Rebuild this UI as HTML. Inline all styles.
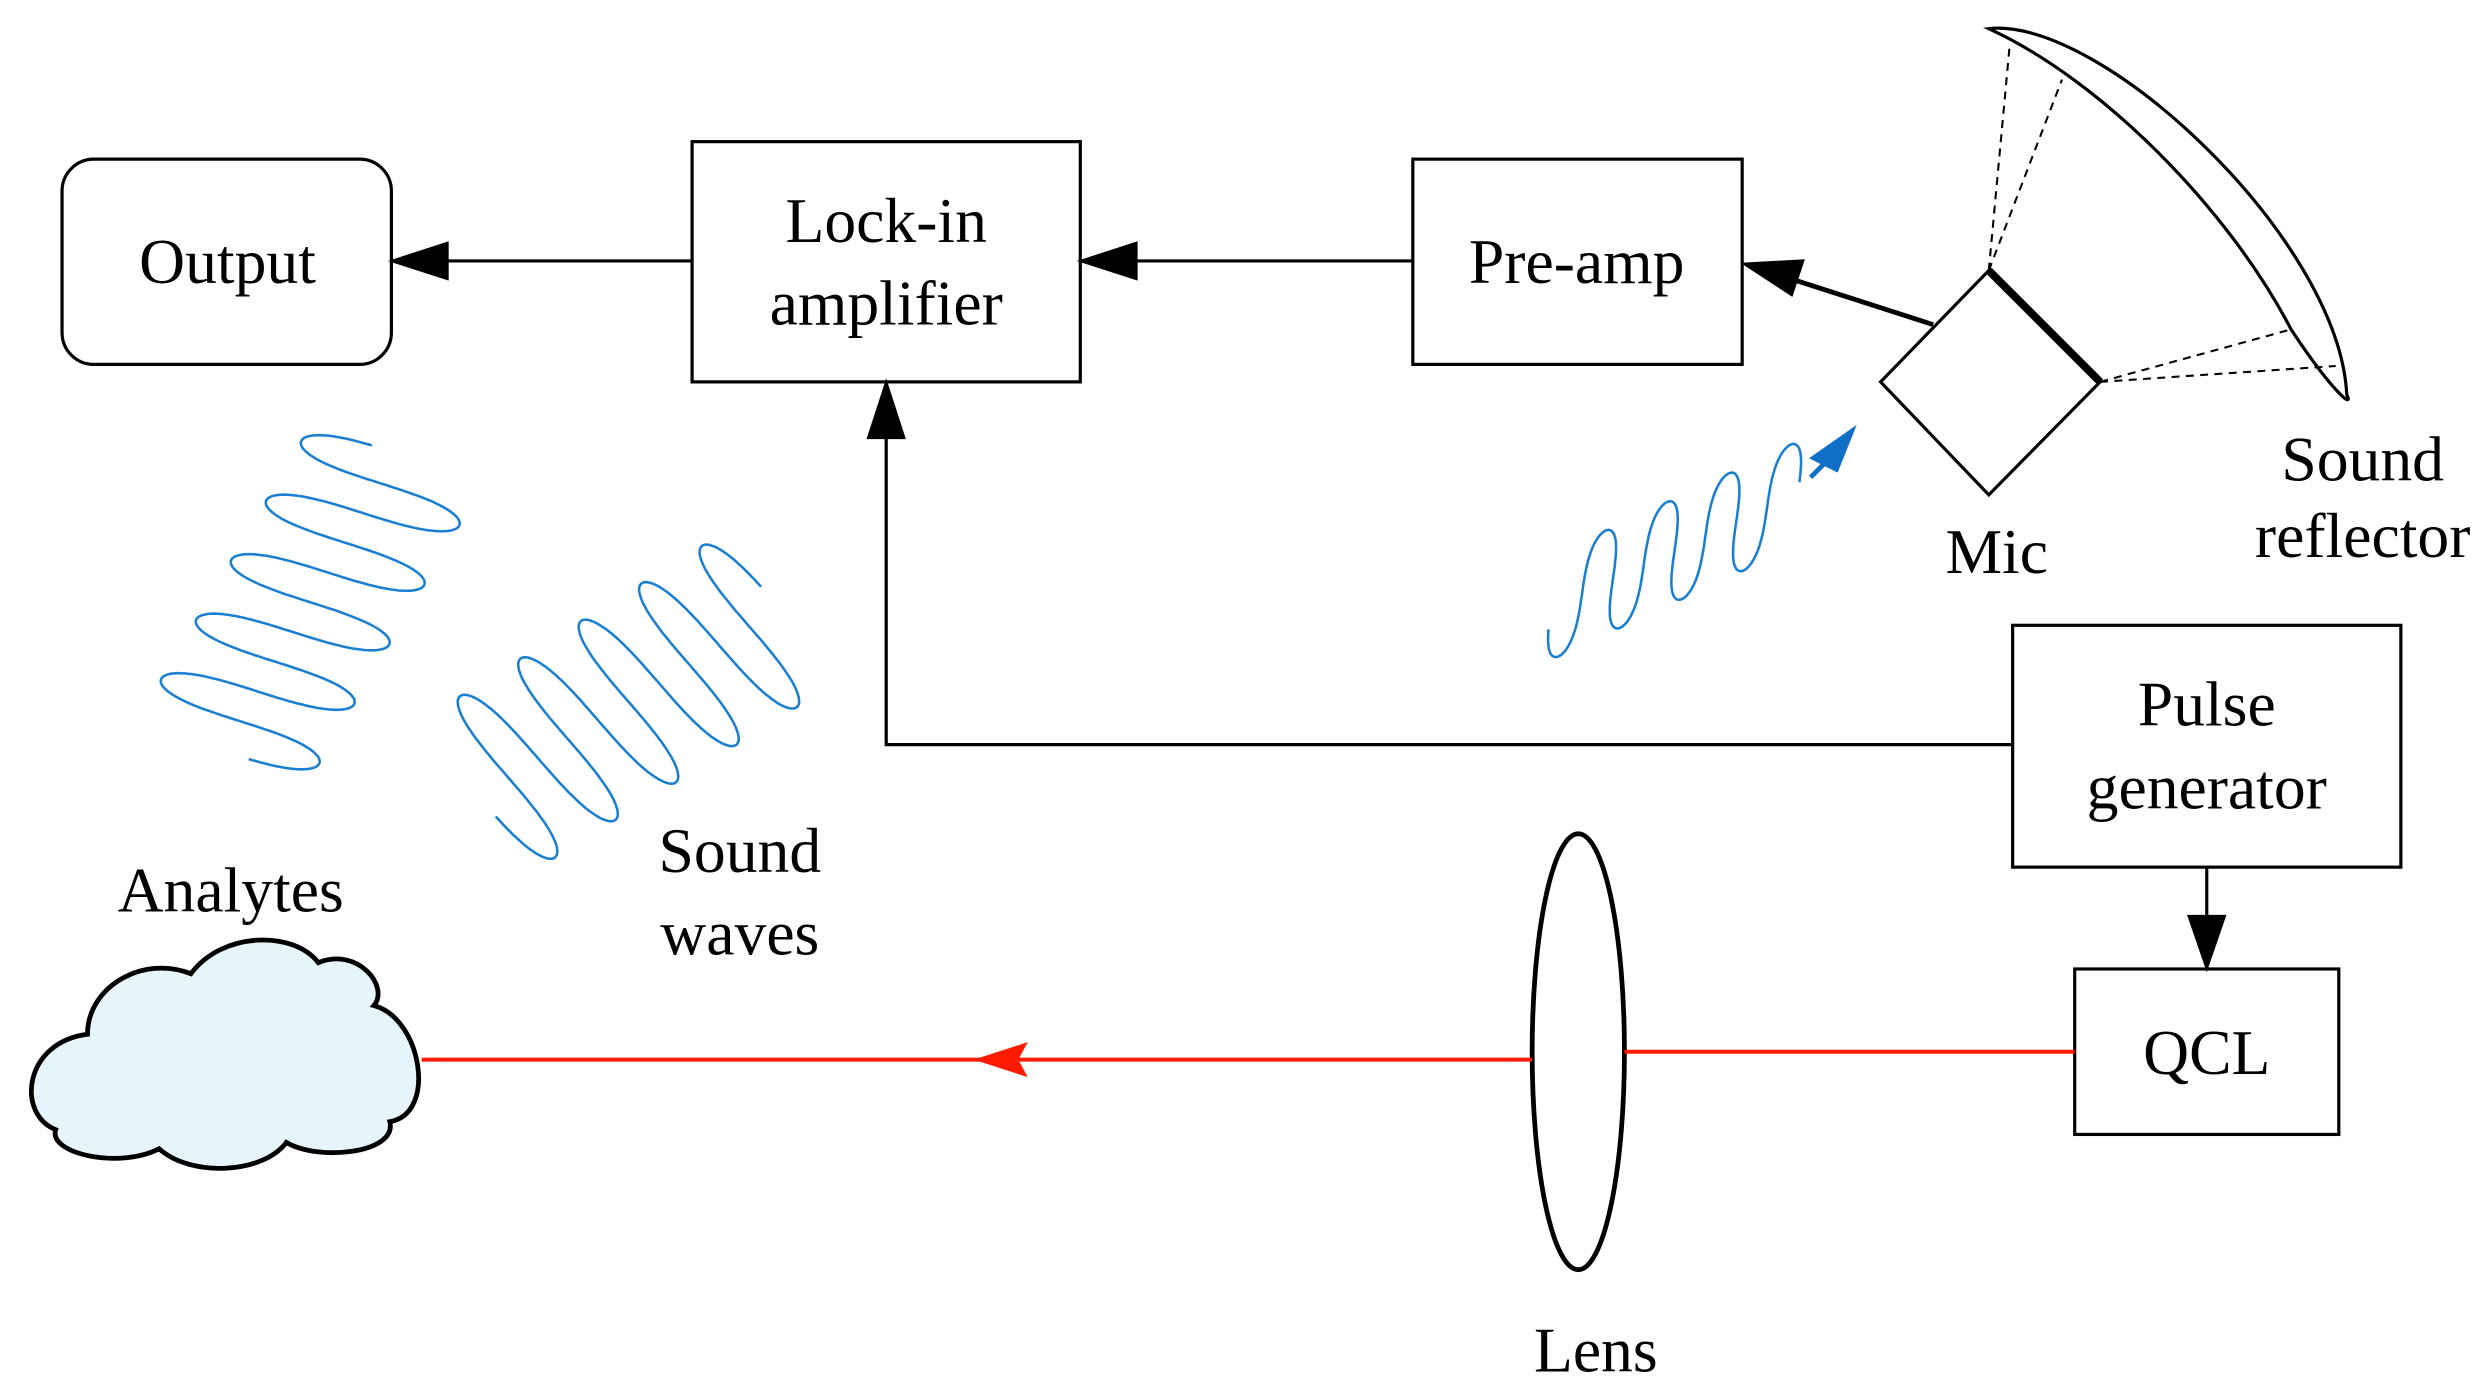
<!DOCTYPE html>
<html><head><meta charset="utf-8">
<style>
html,body{margin:0;padding:0;background:#fff;}
svg{display:block;}
text{font-family:"Liberation Serif",serif;font-size:40px;fill:#000;text-anchor:middle;}
</style></head>
<body>
<svg id="s" width="2482" height="1397" viewBox="0 0 1560 878" xmlns="http://www.w3.org/2000/svg">
<g fill="none" stroke="#000" stroke-width="2">
<rect x="39" y="100" width="207" height="129" rx="20"/>
<rect x="435" y="89" width="244" height="151"/>
<rect x="888" y="100" width="207" height="129"/>
<rect x="1265" y="393" width="244" height="152"/>
<rect x="1304" y="609" width="166" height="104"/>
<line x1="435" y1="164" x2="280" y2="164"/>
<path d="M247,164 L281,153 L281,175 Z" fill="#000"/>
<line x1="888" y1="164" x2="712" y2="164"/>
<path d="M680,164 L714,153 L714,175 Z" fill="#000"/>
<line x1="1215" y1="204" x2="1128" y2="176" stroke-width="3"/>
<path d="M1097,166 L1133,164 L1126,185 Z" fill="#000"/>
<polyline points="1265,468 557,468 557,275"/>
<path d="M557,241 L546,275 L568,275 Z" fill="#000"/>
<line x1="1387" y1="545" x2="1387" y2="580"/>
<path d="M1387,608 L1376,576 L1398,576 Z" fill="#000"/>
<polygon points="1182,240 1250,170 1320,240 1250,311"/>
<line x1="1250" y1="170" x2="1320" y2="240" stroke-width="5"/>
<path d="M1250,18 C1320,10 1470,150 1475,248 C1480,258 1465,245 1440,207 C1400,130 1320,50 1250,18 Z"/>
<g stroke-dasharray="5,4" stroke-width="1.3">
<line x1="1250" y1="170" x2="1263" y2="30"/>
<line x1="1250" y1="170" x2="1296" y2="50"/>
<line x1="1320" y1="240" x2="1440" y2="207"/>
<line x1="1320" y1="240" x2="1468" y2="230"/>
</g>
<ellipse cx="992" cy="661" rx="29" ry="137" stroke-width="3"/>
<path d="M35,710 C10,700 15,655 55,650 C55,620 90,600 120,612 C140,585 185,585 200,605 C225,595 245,620 235,632 C265,640 275,700 245,705 C250,725 200,730 180,718 C165,738 120,740 100,722 C75,735 30,725 35,710 Z" fill="#e6f4fb" stroke-width="3"/>
</g>
<g stroke="#ff1a00" stroke-width="2.5" fill="none">
<line x1="1304" y1="661" x2="1021" y2="661"/>
<line x1="963" y1="666" x2="265" y2="666"/>
</g>
<path d="M612,666 L646,655 L640,666 L646,677 Z" fill="#ff1a00"/>
<g id="w" fill="none" stroke="#1a7fd0" stroke-width="1.6"></g>
<line x1="1138" y1="300" x2="1148" y2="290" stroke="#1070c8" stroke-width="3"/>
<path d="M1167,267 L1155,297 L1137,288 Z" fill="#1070c8"/>
<text x="143" y="178">Output</text>
<text x="557" y="152">Lock-in</text>
<text x="557" y="204">amplifier</text>
<text x="991" y="178">Pre-amp</text>
<text x="1255" y="360">Mic</text>
<text x="1485" y="302">Sound</text>
<text x="1485" y="350">reflector</text>
<text x="1387" y="456">Pulse</text>
<text x="1387" y="508">generator</text>
<text x="1387" y="675">QCL</text>
<text x="1003" y="862">Lens</text>
<text x="145" y="573">Analytes</text>
<text x="465" y="548">Sound</text>
<text x="465" y="600">waves</text>
</svg>
<script>
function wave(ax,ay,bx,by,vx,vy,n,ph0,ph1){
 var dx=bx-ax,dy=by-ay,L=Math.sqrt(dx*dx+dy*dy),ux=dx/L,uy=dy/L,p=L/n,W=-p/(4*Math.PI);
 var d="";var N=800;
 for(var i=0;i<=N;i++){var th=ph0+(ph1-ph0)*i/N;var t=th/(2*Math.PI*n);
 var s=Math.sin(th),w=W*Math.sin(2*th);
 var x=ax+t*dx+s*vx/2+w*ux,y=ay+t*dy+s*vy/2+w*uy;d+=(i?"L":"M")+x.toFixed(1)+","+y.toFixed(1);}
 var e=document.createElementNS("http://www.w3.org/2000/svg","path");e.setAttribute("d",d);document.getElementById("w").appendChild(e);}
wave(140,472,250,285,110,35,5,0.3,2*Math.PI*5-0.3);
wave(300,500,490,382,78,90,5,0.3,2*Math.PI*5-0.3);
wave(975,382,1130,310,-10,70,4,0.4,2*Math.PI*4-0.2);
</script>
</body></html>
